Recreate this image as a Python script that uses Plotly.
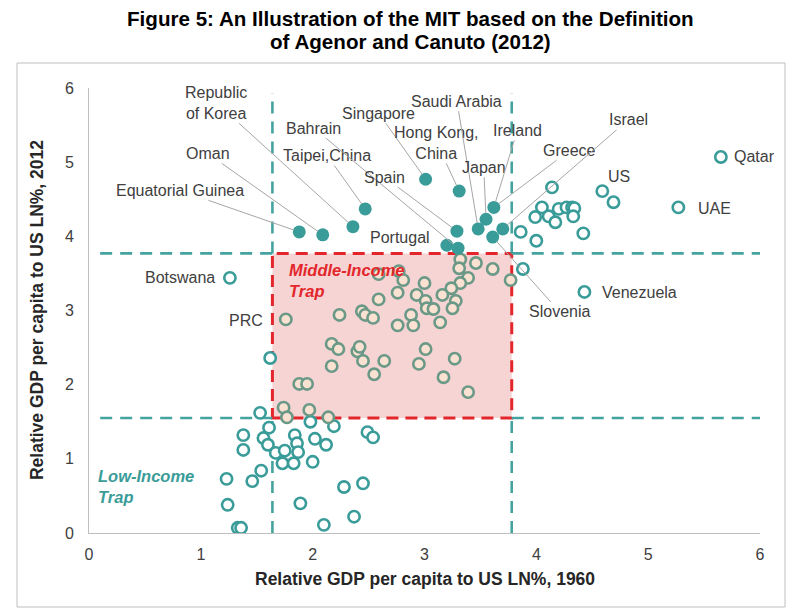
import plotly.graph_objects as go

# ---------------- data ----------------
# thresholds of the trap (relative GDP per capita to US, LN%)
X_LOW, X_HIGH = 1.64, 3.78
Y_LOW, Y_HIGH = 1.55, 3.77

# economies that escaped (filled markers)
filled_names = ["Equatorial Guinea", "Oman", "Republic of Korea", "Taipei,China",
                "Singapore", "Hong Kong, China", "Spain", "Portugal", "Bahrain",
                "Saudi Arabia", "Japan", "Ireland", "Israel", "Slovenia"]
filled_x = [1.88, 2.09, 2.36, 2.47, 3.01, 3.31, 3.29, 3.20, 3.30, 3.48, 3.55, 3.62, 3.70, 3.61]
filled_y = [4.06, 4.02, 4.13, 4.37, 4.77, 4.61, 4.07, 3.88, 3.84, 4.10, 4.23, 4.39, 4.10, 3.99]

# all other economies (hollow markers)
hollow_x = [5.65, 5.27, 4.59, 4.69, 4.43, 4.14, 4.05, 3.99, 4.11, 4.17, 4.20, 4.27, 4.32, 4.34,
            4.33, 4.42, 3.86, 4.00, 3.88,
            1.26, 1.62,
            1.53, 1.61, 1.38, 1.38, 1.56, 1.60, 1.67, 1.75, 1.84, 1.86, 1.87, 1.73, 1.83, 2.00,
            2.02, 2.12, 1.98, 2.19, 2.49, 2.54, 1.54, 1.46, 1.23, 1.24, 1.33, 1.36, 1.89, 2.10,
            2.28, 2.45, 2.37,
            3.32, 3.46, 3.31, 3.61, 3.77, 3.39, 3.32, 3.24, 3.16, 3.28, 3.25, 3.00, 2.93, 3.01,
            3.02, 3.08, 3.14, 2.88, 2.90, 2.76, 2.76, 2.77, 2.81, 2.59, 2.59, 2.44, 2.47, 2.54,
            2.24, 1.76, 2.17, 2.23, 2.40, 2.42, 2.45, 2.17, 2.64, 2.55, 3.01, 2.95, 3.27, 3.17,
            3.39, 1.88, 1.95, 1.74, 1.77, 1.97, 2.14]
hollow_y = [5.07, 4.39, 4.61, 4.46, 3.25, 4.66, 4.39, 4.26, 4.27, 4.19, 4.37, 4.39, 4.39, 4.38,
            4.27, 4.04, 4.06, 3.94, 3.56,
            3.44, 2.36,
            1.62, 1.42, 1.32, 1.12, 1.28, 1.19, 1.08, 1.11, 1.32, 1.21, 1.09, 0.94, 0.94, 0.96,
            1.27, 1.19, 1.50, 1.44, 1.36, 1.29, 0.84, 0.70, 0.73, 0.38, 0.07, 0.07, 0.40, 0.11,
            0.62, 0.67, 0.22,
            3.69, 3.64, 3.57, 3.56, 3.41, 3.44, 3.37, 3.30, 3.21, 3.13, 3.03, 3.37, 3.21, 3.13,
            3.03, 3.02, 2.84, 2.94, 2.80, 2.80, 3.24, 3.53, 3.41, 3.15, 3.49, 2.99, 2.94, 2.90,
            2.94, 2.88, 2.55, 2.48, 2.45, 2.51, 2.32, 2.25, 2.32, 2.14, 2.48, 2.28, 2.35, 2.10,
            1.90, 2.01, 2.01, 1.69, 1.56, 1.66, 1.56]

# labels with leader lines: text, label position, target economy
leader_text = ["Equatorial Guinea", "Oman", "Republic<br>of Korea", "Taipei,China", "Bahrain",
               "Singapore", "Hong Kong,<br>China", "Spain", "Saudi Arabia", "Japan",
               "Ireland", "Greece", "Israel", "Slovenia"]
leader_lx = [0.81, 1.06, 1.14, 2.13, 2.01, 2.59, 3.11, 2.64, 3.29, 3.53, 3.83, 4.30, 4.82, 4.21]
leader_ly = [4.62, 5.12, 5.80, 5.09, 5.46, 5.66, 5.26, 4.80, 5.82, 4.93, 5.43, 5.16, 5.57, 2.98]
leader_target = ["Equatorial Guinea", "Oman", "Republic of Korea", "Taipei,China", "Bahrain",
                 "Singapore", "Hong Kong, China", "Spain", "Saudi Arabia", "Japan",
                 "Ireland", "Ireland", "Israel", "Slovenia"]

# plain labels: text, position, anchor
plain_text = ["Portugal", "Qatar", "UAE", "US", "Venezuela", "Botswana", "PRC"]
plain_x = [2.78, 5.75, 5.43, 4.74, 4.57, 1.145, 1.40]
plain_y = [3.99, 5.07, 4.38, 4.81, 3.24, 3.44, 2.87]
plain_anchor = ["center", "left", "left", "center", "left", "right", "center"]

TITLE_LINES = ["Figure 5: An Illustration of the MIT based on the Definition",
               "of Agenor and Canuto (2012)"]
X_TITLE = "Relative GDP per capita to US LN%, 1960"
Y_TITLE = "Relative GDP per capita to US LN%, 2012"

# ---------------- styling ----------------
TEAL = "#3a9c99"
TEAL_LINE = "#45a39f"
RED = "#e3262b"
GREY_TXT = "#404040"
FONT = "Liberation Sans, Arial, sans-serif"

inside = [(X_LOW <= x <= X_HIGH) and (Y_LOW <= y <= Y_HIGH) for x, y in zip(hollow_x, hollow_y)]
in_x = [x for x, f in zip(hollow_x, inside) if f]
in_y = [y for y, f in zip(hollow_y, inside) if f]
out_x = [x for x, f in zip(hollow_x, inside) if not f]
out_y = [y for y, f in zip(hollow_y, inside) if not f]

fig = go.Figure()
fig.add_trace(go.Scatter(x=out_x, y=out_y, mode="markers",
                         marker=dict(size=11.3, color="white", line=dict(color=TEAL, width=2.6)),
                         hoverinfo="x+y"))
fig.add_trace(go.Scatter(x=in_x, y=in_y, mode="markers",
                         marker=dict(size=11.3, color="#fbe1d1", line=dict(color="#6b9987", width=2.6)),
                         hoverinfo="x+y"))
fig.add_trace(go.Scatter(x=filled_x, y=filled_y, mode="markers", text=filled_names,
                         marker=dict(size=13, color=TEAL, line=dict(width=0)),
                         hoverinfo="text+x+y"))

shapes = []
# trap rectangle
shapes.append(dict(type="rect", xref="x", yref="y", x0=X_LOW, x1=X_HIGH, y0=Y_LOW, y1=Y_HIGH,
                   fillcolor="#f6d4d4", line=dict(color=RED, width=3, dash="12px,7px"),
                   layer="below"))
dash = dict(color=TEAL_LINE, width=2.6, dash="12px,8px")
for yv in (Y_LOW, Y_HIGH):
    shapes.append(dict(type="line", xref="x", yref="y", x0=0.1, x1=X_LOW, y0=yv, y1=yv, line=dash, layer="below"))
    shapes.append(dict(type="line", xref="x", yref="y", x0=X_HIGH, x1=6, y0=yv, y1=yv, line=dash, layer="below"))
for xv in (X_LOW, X_HIGH):
    shapes.append(dict(type="line", xref="x", yref="y", x0=xv, x1=xv, y0=0, y1=Y_LOW, line=dash, layer="below"))
    shapes.append(dict(type="line", xref="x", yref="y", x0=xv, x1=xv, y0=Y_HIGH, y1=5.93, line=dash, layer="below"))
# outer frame
shapes.append(dict(type="rect", xref="paper", yref="paper", x0=-0.1073, x1=1.0373, y0=-0.1663, y1=1.0562,
                   line=dict(color="#bfbfbf", width=1), fillcolor="rgba(0,0,0,0)"))

ann = []
lab_font = dict(family=FONT, size=16, color=GREY_TXT)
for t, lx, ly, tgt in zip(leader_text, leader_lx, leader_ly, leader_target):
    i = filled_names.index(tgt)
    ann.append(dict(x=filled_x[i], y=filled_y[i], xref="x", yref="y",
                    ax=lx, ay=ly, axref="x", ayref="y", text=t, showarrow=True,
                    arrowhead=0, arrowwidth=1, arrowcolor="#a6a6a6", standoff=6,
                    font=lab_font, align="center"))
for t, px, py, anc in zip(plain_text, plain_x, plain_y, plain_anchor):
    ann.append(dict(x=px, y=py, xref="x", yref="y", text=t, showarrow=False,
                    xanchor=anc, yanchor="middle", font=lab_font))
ann.append(dict(x=1.77, y=3.40, xref="x", yref="y", text="<b><i>Middle-Income<br>Trap</i></b>",
                showarrow=False, xanchor="left", yanchor="middle", align="left",
                font=dict(family=FONT, size=16.5, color=RED)))
ann.append(dict(x=0.06, y=0.63, xref="x", yref="y", text="<b><i>Low-Income<br>Trap</i></b>",
                showarrow=False, xanchor="left", yanchor="middle", align="left",
                font=dict(family=FONT, size=16.5, color=TEAL)))
# title (two lines)
for t, yy in zip(TITLE_LINES, (1.1573, 1.1034)):
    ann.append(dict(x=0.479, y=yy, xref="paper", yref="paper", text="<b>" + t + "</b>",
                    showarrow=False, xanchor="center", yanchor="middle",
                    font=dict(family=FONT, size=20.6, color="black")))
# axis titles
ann.append(dict(x=0.5, y=-0.1034, xref="paper", yref="paper",
                text="<b>" + X_TITLE + "</b>", showarrow=False,
                xanchor="center", yanchor="middle", font=dict(family=FONT, size=17.5, color="#262626")))
ann.append(dict(x=-0.0775, y=0.501, xref="paper", yref="paper", textangle=-90,
                text="<b>" + Y_TITLE + "</b>", showarrow=False,
                xanchor="center", yanchor="middle", font=dict(family=FONT, size=17.5, color="#262626")))

fig.update_layout(
    width=800, height=614,
    margin=dict(l=89, r=40, t=88, b=81),
    paper_bgcolor="white", plot_bgcolor="white",
    showlegend=False,
    shapes=shapes, annotations=ann,
    xaxis=dict(range=[0, 6], dtick=1, showgrid=False, zeroline=False, showline=True,
               linecolor="#bfbfbf", linewidth=1, ticks="outside", ticklen=7,
               tickcolor="rgba(0,0,0,0)", tickfont=dict(family=FONT, size=16, color=GREY_TXT)),
    yaxis=dict(range=[0, 6], dtick=1, showgrid=False, zeroline=False, showline=True,
               linecolor="#bfbfbf", linewidth=1, ticks="outside", ticklen=11,
               tickcolor="rgba(0,0,0,0)", tickfont=dict(family=FONT, size=16, color=GREY_TXT)),
)

fig.write_html("out.html")
